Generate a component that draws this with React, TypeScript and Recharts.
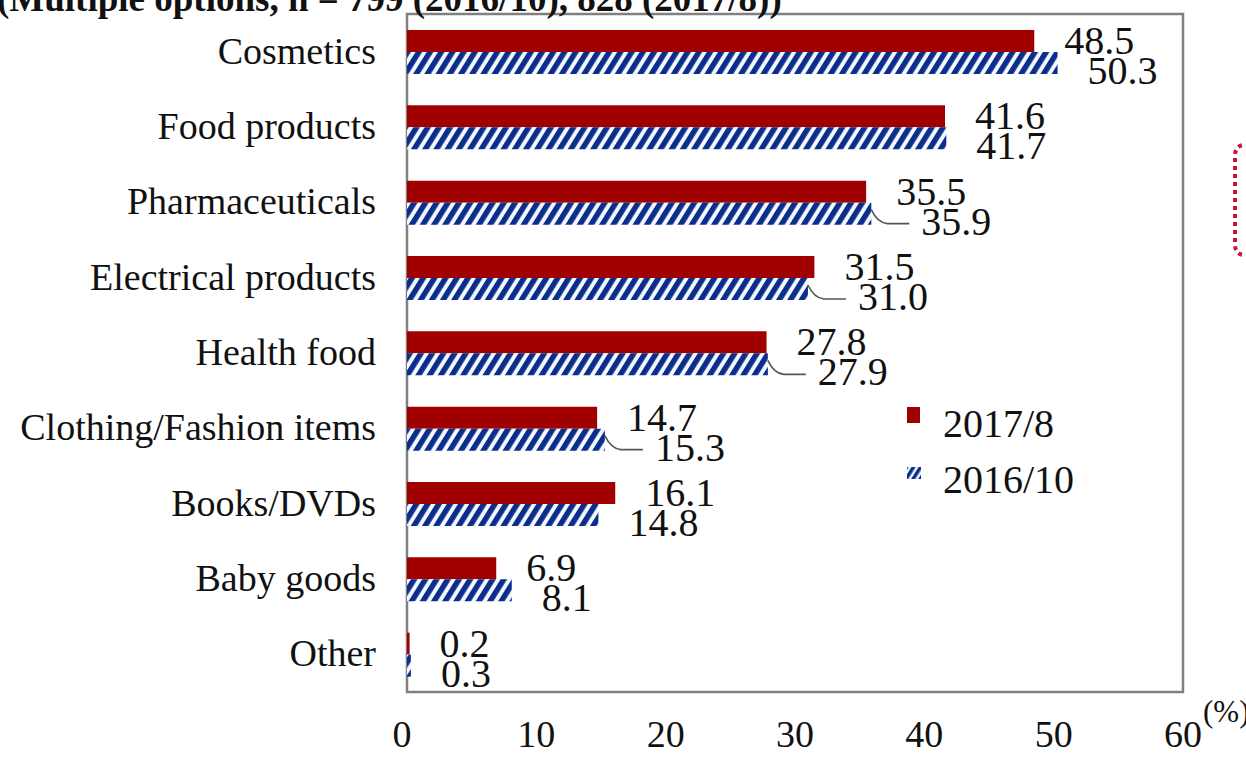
import React from "react";
import {
  BarChart,
  Bar,
  XAxis,
  YAxis,
  ReferenceArea,
  LabelList,
} from "recharts";

const categories = [
  "Cosmetics",
  "Food products",
  "Pharmaceuticals",
  "Electrical products",
  "Health food",
  "Clothing/Fashion items",
  "Books/DVDs",
  "Baby goods",
  "Other",
];
const series2017 = [48.5, 41.6, 35.5, 31.5, 27.8, 14.7, 16.1, 6.9, 0.2];
const series2016 = [50.3, 41.7, 35.9, 31.0, 27.9, 15.3, 14.8, 8.1, 0.3];
const xTicks = [0, 10, 20, 30, 40, 50, 60];
const seriesNames = ["2017/8", "2016/10"];
const titleText = "(Multiple options, n = 799 (2016/10), 828 (2017/8))";
const unitText = "(%)";
// categories whose 2016/10 label is pulled aside with a leader line
const leaderCategories = [
  "Pharmaceuticals",
  "Electrical products",
  "Health food",
  "Clothing/Fashion items",
];

const data = categories.map((c, i) => ({
  name: c,
  v2017: series2017[i],
  v2016: series2016[i],
}));

const FONT = "'Liberation Serif', 'Times New Roman', serif";
const RED = "#a00000";
const BLUE = "#0b2d8c";
const W = 1246;
const H = 763;
const M_TOP = 14;
const M_RIGHT = 63;
const X_AXIS_H = 71;
const Y_AXIS_W = 407;
const PLOT_BOTTOM = H - X_AXIS_H;

const getBox = (p: any) => {
  const vb = p.viewBox || {};
  return {
    x: Number(p.x ?? vb.x),
    y: Number(p.y ?? vb.y),
    width: Number(p.width ?? vb.width),
    height: Number(p.height ?? vb.height),
  };
};

const RedLabel = (p: any) => {
  const { x, y, width, height } = getBox(p);
  const v = Number(p.value);
  return (
    <text
      x={x + width + 30}
      y={y + height / 2 + 13}
      fontFamily={FONT}
      fontSize={40}
      fill="#111"
    >
      {v.toFixed(1)}
    </text>
  );
};

const BlueLabel = (p: any) => {
  const { x, y, width, height } = getBox(p);
  const v = Number(p.value);
  const idx = Number(p.index);
  const cat = categories[idx];
  const hasLeader = leaderCategories.includes(cat);
  const end = x + width;
  const cy = y + height / 2;
  const left = end + (hasLeader ? 50 : 30);
  return (
    <g>
      {hasLeader && (
        <path
          d={`M ${end} ${cy - 4} Q ${end + 6} ${cy + 9} ${end + 16} ${cy + 10} L ${left - 12} ${cy + 10}`}
          stroke="#555"
          strokeWidth={1.6}
          fill="none"
        />
      )}
      <text
        x={left}
        y={cy + 8 + 13}
        fontFamily={FONT}
        fontSize={40}
        fill="#111"
      >
        {v.toFixed(1)}
      </text>
    </g>
  );
};

const YTick = (p: any) => {
  const { y, payload } = p;
  return (
    <text
      x={Y_AXIS_W - 31}
      y={Number(y) + 12}
      textAnchor="end"
      fontFamily={FONT}
      fontSize={38}
      fill="#111"
    >
      {payload.value}
    </text>
  );
};

const XTick = (p: any) => {
  const { x, payload } = p;
  return (
    <text
      x={Number(x) - (payload.value === 0 ? 5 : 0)}
      y={PLOT_BOTTOM + 55}
      textAnchor="middle"
      fontFamily={FONT}
      fontSize={38}
      fill="#111"
    >
      {payload.value}
    </text>
  );
};

export default function App() {
  return (
    <div
      style={{
        position: "absolute",
        left: 0,
        top: 0,
        width: W,
        height: H,
        background: "#fff",
        overflow: "hidden",
      }}
    >
      <BarChart
        width={W}
        height={H}
        data={data}
        layout="vertical"
        margin={{ top: M_TOP, right: M_RIGHT, bottom: 0, left: 0 }}
        barGap={0}
        barSize={22}
      >
        <defs>
          <pattern
            id="hatch"
            patternUnits="userSpaceOnUse"
            width={9.5}
            height={9.5}
            patternTransform="rotate(32)"
          >
            <rect x={0} y={0} width={9.5} height={9.5} fill="#f4f8ff" />
            <rect x={0} y={0} width={5.5} height={9.5} fill={BLUE} />
          </pattern>
        </defs>
        <XAxis
          type="number"
          domain={[0, 60]}
          ticks={xTicks}
          height={X_AXIS_H}
          axisLine={false}
          tickLine={false}
          tick={<XTick />}
          interval={0}
        />
        <YAxis
          type="category"
          dataKey="name"
          width={Y_AXIS_W}
          axisLine={false}
          tickLine={false}
          tick={<YTick />}
          interval={0}
        />
        <ReferenceArea
          x1={0}
          x2={60}
          fill="none"
          stroke="#808080"
          strokeWidth={2.5}
          ifOverflow="visible"
        />
        <Bar
          dataKey="v2017"
          name={seriesNames[0]}
          fill={RED}
          isAnimationActive={false}
        >
          <LabelList dataKey="v2017" content={<RedLabel />} />
        </Bar>
        <Bar
          dataKey="v2016"
          name={seriesNames[1]}
          fill="url(#hatch)"
          isAnimationActive={false}
        >
          <LabelList dataKey="v2016" content={<BlueLabel />} />
        </Bar>
      </BarChart>
      <svg
        width={W}
        height={H}
        style={{ position: "absolute", left: 0, top: 0, pointerEvents: "none" }}
      >
        <defs>
          <pattern
            id="hatchLegend"
            patternUnits="userSpaceOnUse"
            width={6}
            height={6}
            patternTransform="rotate(32)"
          >
            <rect x={0} y={0} width={6} height={6} fill="#f4f8ff" />
            <rect x={0} y={0} width={3.5} height={6} fill={BLUE} />
          </pattern>
        </defs>
        <text
          x={-3}
          y={11}
          fontFamily={FONT}
          fontWeight="bold"
          fontSize={37}
          fill="#111"
        >
          {titleText}
        </text>
        <text x={1203} y={722} fontFamily={FONT} fontSize={31} fill="#111">
          {unitText}
        </text>
        <path
          d="M 1250 145 L 1245 145 Q 1235 145 1235 156 L 1235 244 Q 1235 255 1245 255 L 1250 255"
          stroke="#c8143c"
          strokeWidth={4}
          strokeDasharray="4 4"
          fill="none"
        />
        <g transform="translate(907, 395)">
          <rect x={0} y={12} width={13} height={16} fill={RED} />
          <text x={36} y={42} fontFamily={FONT} fontSize={40} fill="#111">
            {seriesNames[0]}
          </text>
          <rect x={0} y={72} width={14} height={12} fill="url(#hatchLegend)" />
          <text x={36} y={98} fontFamily={FONT} fontSize={40} fill="#111">
            {seriesNames[1]}
          </text>
        </g>
      </svg>
    </div>
  );
}
